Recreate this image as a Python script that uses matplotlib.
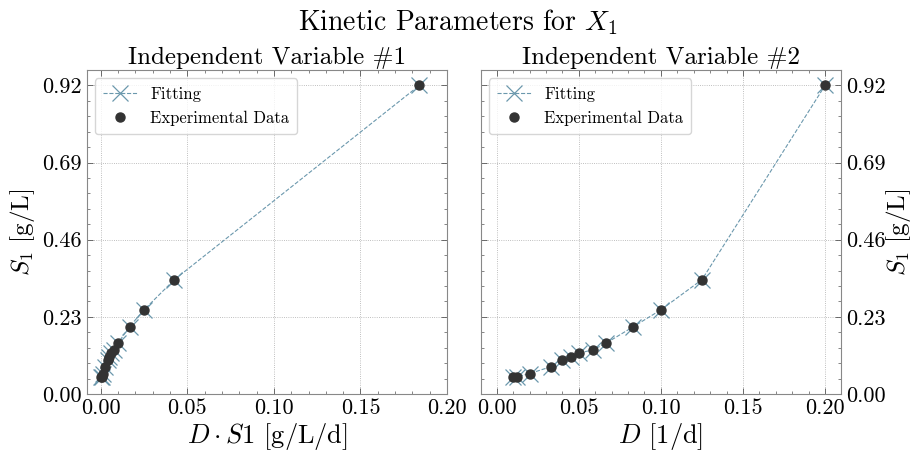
import numpy as np
import matplotlib
matplotlib.use("Agg")
import matplotlib.pyplot as plt
from matplotlib.ticker import AutoMinorLocator


plt.rcParams.update({
    "font.family": "serif",
    "font.serif": ["cmr10", "DejaVu Serif"],
    "mathtext.fontset": "cm",
    "axes.formatter.use_mathtext": True,
    "axes.unicode_minus": False,
    "xtick.direction": "in",
    "ytick.direction": "in",
    "xtick.top": True,
    "ytick.right": True,
    "xtick.minor.visible": True,
    "ytick.minor.visible": True,
})

# dilution rate [1/d] and steady-state substrate [g/L]
D = [0.01, 0.0125, 0.02, 0.0333, 0.04, 0.0455, 0.05, 0.0588, 0.0667,
     0.0833, 0.1, 0.125, 0.2]
S1_exp = [0.052, 0.052, 0.061, 0.082, 0.102, 0.111, 0.122, 0.132, 0.152,
          0.201, 0.251, 0.341, 0.92]
S1_fit = [0.052, 0.052, 0.061, 0.082, 0.102, 0.111, 0.122, 0.132, 0.152,
          0.201, 0.251, 0.341, 0.92]

yticks = [0.0, 0.23, 0.46, 0.69, 0.92]
fit_color = "#6b98ad"
data_color = "#333333"

D = np.array(D)
S1_exp = np.array(S1_exp)
S1_fit = np.array(S1_fit)

fig = plt.figure(figsize=(9.15, 4.54), dpi=100)
ax1 = fig.add_axes([0.0947, 0.132, 0.394, 0.714])
ax2 = fig.add_axes([0.5254, 0.132, 0.3938, 0.714])

panels = [
    (ax1, D * S1_exp, D * S1_fit, r"$D \cdot S1$ [g/L/d]", "Independent Variable #1"),
    (ax2, D, D, r"$D$ [1/d]", "Independent Variable #2"),
]

for ax, x_exp, x_fit, xlabel, title in panels:
    ax.plot(x_fit, S1_fit, linestyle="--", linewidth=0.8, color=fit_color,
            marker="x", markersize=11, markeredgewidth=0.9, label="Fitting")
    ax.plot(x_exp, S1_exp, linestyle="none", marker="o", markersize=6.5,
            color=data_color, label="Experimental Data", zorder=3)
    ax.set_xticks([0.0, 0.05, 0.10, 0.15, 0.20])
    ax.set_xticklabels(["0.00", "0.05", "0.10", "0.15", "0.20"])
    ax.set_yticks(yticks)
    ax.set_yticklabels(["%.2f" % v for v in yticks])
    ax.xaxis.set_minor_locator(AutoMinorLocator(5))
    ax.yaxis.set_minor_locator(AutoMinorLocator(5))
    ax.set_ylim(0, 0.92 * 1.05)
    ax.tick_params(which="major", labelsize=16, length=4, width=0.6, color="#555555")
    ax.tick_params(which="minor", length=2, width=0.5, color="#555555")
    ax.grid(True, which="major", linestyle=":", linewidth=0.6, color="#aaaaaa")
    for sp in ax.spines.values():
        sp.set_color("#888888")
        sp.set_linewidth(0.8)
    ax.set_xlabel(xlabel, fontsize=19, labelpad=2)
    ax.set_ylabel(r"$S_1$ [g/L]", fontsize=18)
    ax.set_title(title, fontsize=18, pad=4)
    leg = ax.legend(loc="upper left", fontsize=12, fancybox=True, framealpha=0.8,
                    edgecolor="#cccccc", borderpad=0.5, handlelength=2.0)

ax1.set_xlim(-0.008, 0.20)
ax2.set_xlim(-0.0097, 0.2097)

ax2.yaxis.tick_right()
ax2.yaxis.set_label_position("right")
ax2.tick_params(axis="y", which="both", left=True, right=True,
                labelleft=False, labelright=True)
ax2.set_ylabel(r"$S_1$ [g/L]", fontsize=18, rotation=90, labelpad=-1)

fig.suptitle(r"Kinetic Parameters for $X_1$", fontsize=20, y=0.985)

fig.savefig("out.png", dpi=100)
